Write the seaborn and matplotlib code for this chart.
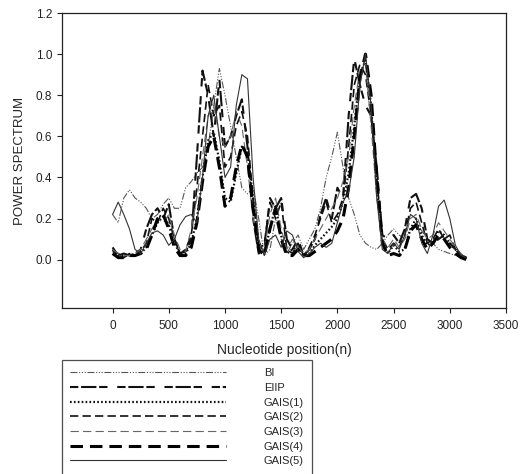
import seaborn as sns
import matplotlib.pyplot as plt

# nucleotide positions (shared by all series)
positions = [0, 50, 100, 150, 200, 250, 300, 350, 400, 450, 500, 550, 600, 650, 700, 750,
             800, 850, 900, 950, 1000, 1050, 1100, 1150, 1200, 1250, 1300, 1350, 1400, 1450, 1500, 1550,
             1600, 1650, 1700, 1750, 1800, 1850, 1900, 1950, 2000, 2050, 2100, 2150, 2200, 2250, 2300, 2350,
             2400, 2450, 2500, 2550, 2600, 2650, 2700, 2750, 2800, 2850, 2900, 2950, 3000, 3050, 3100, 3150]

bi = [0.22, 0.18, 0.30, 0.34, 0.30, 0.28, 0.25, 0.20, 0.22, 0.27, 0.30, 0.25, 0.25, 0.35, 0.38, 0.42,
      0.45, 0.55, 0.75, 0.93, 0.80, 0.65, 0.50, 0.35, 0.32, 0.35, 0.20, 0.02, 0.05, 0.20, 0.10, 0.03,
      0.08, 0.12, 0.05, 0.10, 0.15, 0.25, 0.40, 0.50, 0.62, 0.45, 0.30, 0.22, 0.12, 0.08, 0.06, 0.05,
      0.08, 0.12, 0.15, 0.12, 0.10, 0.15, 0.18, 0.14, 0.10, 0.08, 0.05, 0.04, 0.03, 0.02, 0.01, 0.005]

eiip = [0.06, 0.02, 0.03, 0.02, 0.03, 0.05, 0.15, 0.22, 0.25, 0.20, 0.27, 0.10, 0.03, 0.04, 0.10, 0.50,
        0.92, 0.80, 0.60, 0.88, 0.55, 0.60, 0.70, 0.78, 0.55, 0.20, 0.03, 0.05, 0.30, 0.25, 0.30, 0.10,
        0.05, 0.10, 0.02, 0.05, 0.10, 0.22, 0.30, 0.20, 0.35, 0.30, 0.70, 0.98, 0.85, 0.75, 0.70, 0.45,
        0.12, 0.10, 0.12, 0.08, 0.15, 0.30, 0.32, 0.25, 0.10, 0.08, 0.10, 0.12, 0.08, 0.05, 0.02, 0.01]

gais1 = [0.05, 0.02, 0.02, 0.02, 0.02, 0.03, 0.06, 0.12, 0.18, 0.21, 0.17, 0.08, 0.03, 0.03, 0.08, 0.20,
         0.40, 0.58, 0.62, 0.48, 0.30, 0.28, 0.42, 0.55, 0.52, 0.30, 0.08, 0.03, 0.15, 0.26, 0.12, 0.03,
         0.05, 0.06, 0.02, 0.03, 0.07, 0.10, 0.13, 0.16, 0.20, 0.28, 0.42, 0.65, 0.90, 0.97, 0.75, 0.35,
         0.08, 0.03, 0.07, 0.04, 0.05, 0.15, 0.20, 0.12, 0.07, 0.09, 0.14, 0.12, 0.08, 0.05, 0.02, 0.01]

gais2 = [0.04, 0.03, 0.01, 0.03, 0.02, 0.04, 0.08, 0.20, 0.18, 0.25, 0.20, 0.10, 0.03, 0.05, 0.12, 0.35,
         0.60, 0.85, 0.70, 0.75, 0.45, 0.50, 0.65, 0.72, 0.60, 0.30, 0.05, 0.08, 0.28, 0.20, 0.28, 0.05,
         0.03, 0.08, 0.02, 0.06, 0.12, 0.20, 0.28, 0.18, 0.22, 0.30, 0.55, 0.85, 0.95, 0.90, 0.70, 0.40,
         0.10, 0.05, 0.08, 0.06, 0.12, 0.25, 0.28, 0.18, 0.08, 0.10, 0.15, 0.10, 0.12, 0.05, 0.02, 0.01]

gais3 = [0.05, 0.03, 0.02, 0.02, 0.03, 0.05, 0.10, 0.15, 0.20, 0.18, 0.22, 0.12, 0.05, 0.04, 0.15, 0.30,
         0.50, 0.70, 0.75, 0.60, 0.55, 0.60, 0.72, 0.65, 0.45, 0.20, 0.06, 0.05, 0.22, 0.30, 0.15, 0.05,
         0.10, 0.06, 0.03, 0.05, 0.10, 0.15, 0.20, 0.25, 0.30, 0.38, 0.50, 0.75, 0.92, 0.95, 0.65, 0.30,
         0.10, 0.06, 0.10, 0.06, 0.10, 0.20, 0.22, 0.15, 0.10, 0.12, 0.18, 0.14, 0.10, 0.06, 0.03, 0.01]

gais4 = [0.03, 0.01, 0.01, 0.02, 0.02, 0.03, 0.05, 0.12, 0.20, 0.22, 0.15, 0.06, 0.02, 0.02, 0.06, 0.18,
         0.38, 0.55, 0.60, 0.45, 0.26, 0.30, 0.45, 0.56, 0.50, 0.25, 0.05, 0.02, 0.15, 0.25, 0.10, 0.02,
         0.02, 0.05, 0.02, 0.02, 0.04, 0.06, 0.08, 0.10, 0.14, 0.20, 0.35, 0.60, 0.88, 1.00, 0.80, 0.40,
         0.08, 0.02, 0.03, 0.02, 0.05, 0.14, 0.17, 0.10, 0.05, 0.08, 0.12, 0.10, 0.06, 0.03, 0.01, 0.00]

gais5 = [0.22, 0.28, 0.22, 0.15, 0.05, 0.03, 0.08, 0.13, 0.14, 0.12, 0.07, 0.10, 0.17, 0.21, 0.22, 0.18,
         0.40, 0.70, 0.80, 0.60, 0.40, 0.45, 0.75, 0.90, 0.88, 0.40, 0.10, 0.02, 0.10, 0.12, 0.06, 0.14,
         0.12, 0.04, 0.01, 0.03, 0.06, 0.08, 0.06, 0.08, 0.18, 0.28, 0.33, 0.50, 0.85, 1.00, 0.75, 0.30,
         0.05, 0.03, 0.08, 0.05, 0.12, 0.22, 0.20, 0.08, 0.03, 0.12, 0.26, 0.29, 0.20, 0.07, 0.02, 0.01]

series_names = ["BI", "EIIP", "GAIS(1)", "GAIS(2)", "GAIS(3)", "GAIS(4)", "GAIS(5)"]
series_values = [bi, eiip, gais1, gais2, gais3, gais4, gais5]

# style per series: colour, width, dash pattern (points)
styles = [
    ("#555555", 0.8, (5, 1.2, 0.8, 1.2, 0.8, 1.2, 0.8, 1.2)),
    ("#111111", 1.5, (6, 2, 11, 2, 6, 7)),
    ("#111111", 1.6, (1.2, 1.6)),
    ("#111111", 1.2, (6, 3)),
    ("#666666", 0.8, (6, 3)),
    ("#000000", 2.2, (9, 5)),
    ("#333333", 0.8, None),
]

sns.set_style("ticks")
plt.rcParams["font.family"] = ["Liberation Sans", "DejaVu Sans"]
plt.rcParams["lines.scale_dashes"] = False

fig = plt.figure(figsize=(5.21, 4.74), dpi=100)
ax = fig.add_axes([62 / 521, 1 - 308 / 474, (506 - 62) / 521, (308 - 13) / 474])

handles = []
for name, vals, (col, lw, dash) in zip(series_names, series_values, styles):
    sns.lineplot(x=positions, y=vals, ax=ax, color=col, linewidth=lw, estimator=None, label=name)
    line = ax.lines[-1]
    if dash is not None:
        line.set_dashes(dash)
    handles.append(line)

ax.set_xlim(-450, 3500)
ax.set_ylim(-0.235, 1.2)
ax.set_xticks([0, 500, 1000, 1500, 2000, 2500, 3000, 3500])
ax.set_yticks([0.0, 0.2, 0.4, 0.6, 0.8, 1.0, 1.2])
ax.set_yticklabels(["0.0", "0.2", "0.4", "0.6", "0.8", "1.0", "1.2"])
ax.tick_params(direction="out", length=3.5, width=0.8, labelsize=8.5, colors="#222222")
ax.tick_params(axis="x", pad=5)
for s in ax.spines.values():
    s.set_visible(True)
    s.set_linewidth(0.9)
    s.set_color("#222222")
ax.set_xlabel("Nucleotide position(n)", fontsize=10, labelpad=8)
ax.set_ylabel("POWER SPECTRUM", fontsize=9.5, labelpad=7)
ax.get_legend().remove()

leg = fig.legend(handles, series_names, loc="upper left",
                 bbox_to_anchor=(62 / 521, 1 - 360 / 474), bbox_transform=fig.transFigure,
                 frameon=True, fancybox=False, edgecolor="#222222", fontsize=8,
                 handlelength=14, handletextpad=3.4, labelspacing=0.42,
                 borderpad=0.75, borderaxespad=0)
leg.get_frame().set_linewidth(0.9)

fig.savefig("out.png", dpi=100)
